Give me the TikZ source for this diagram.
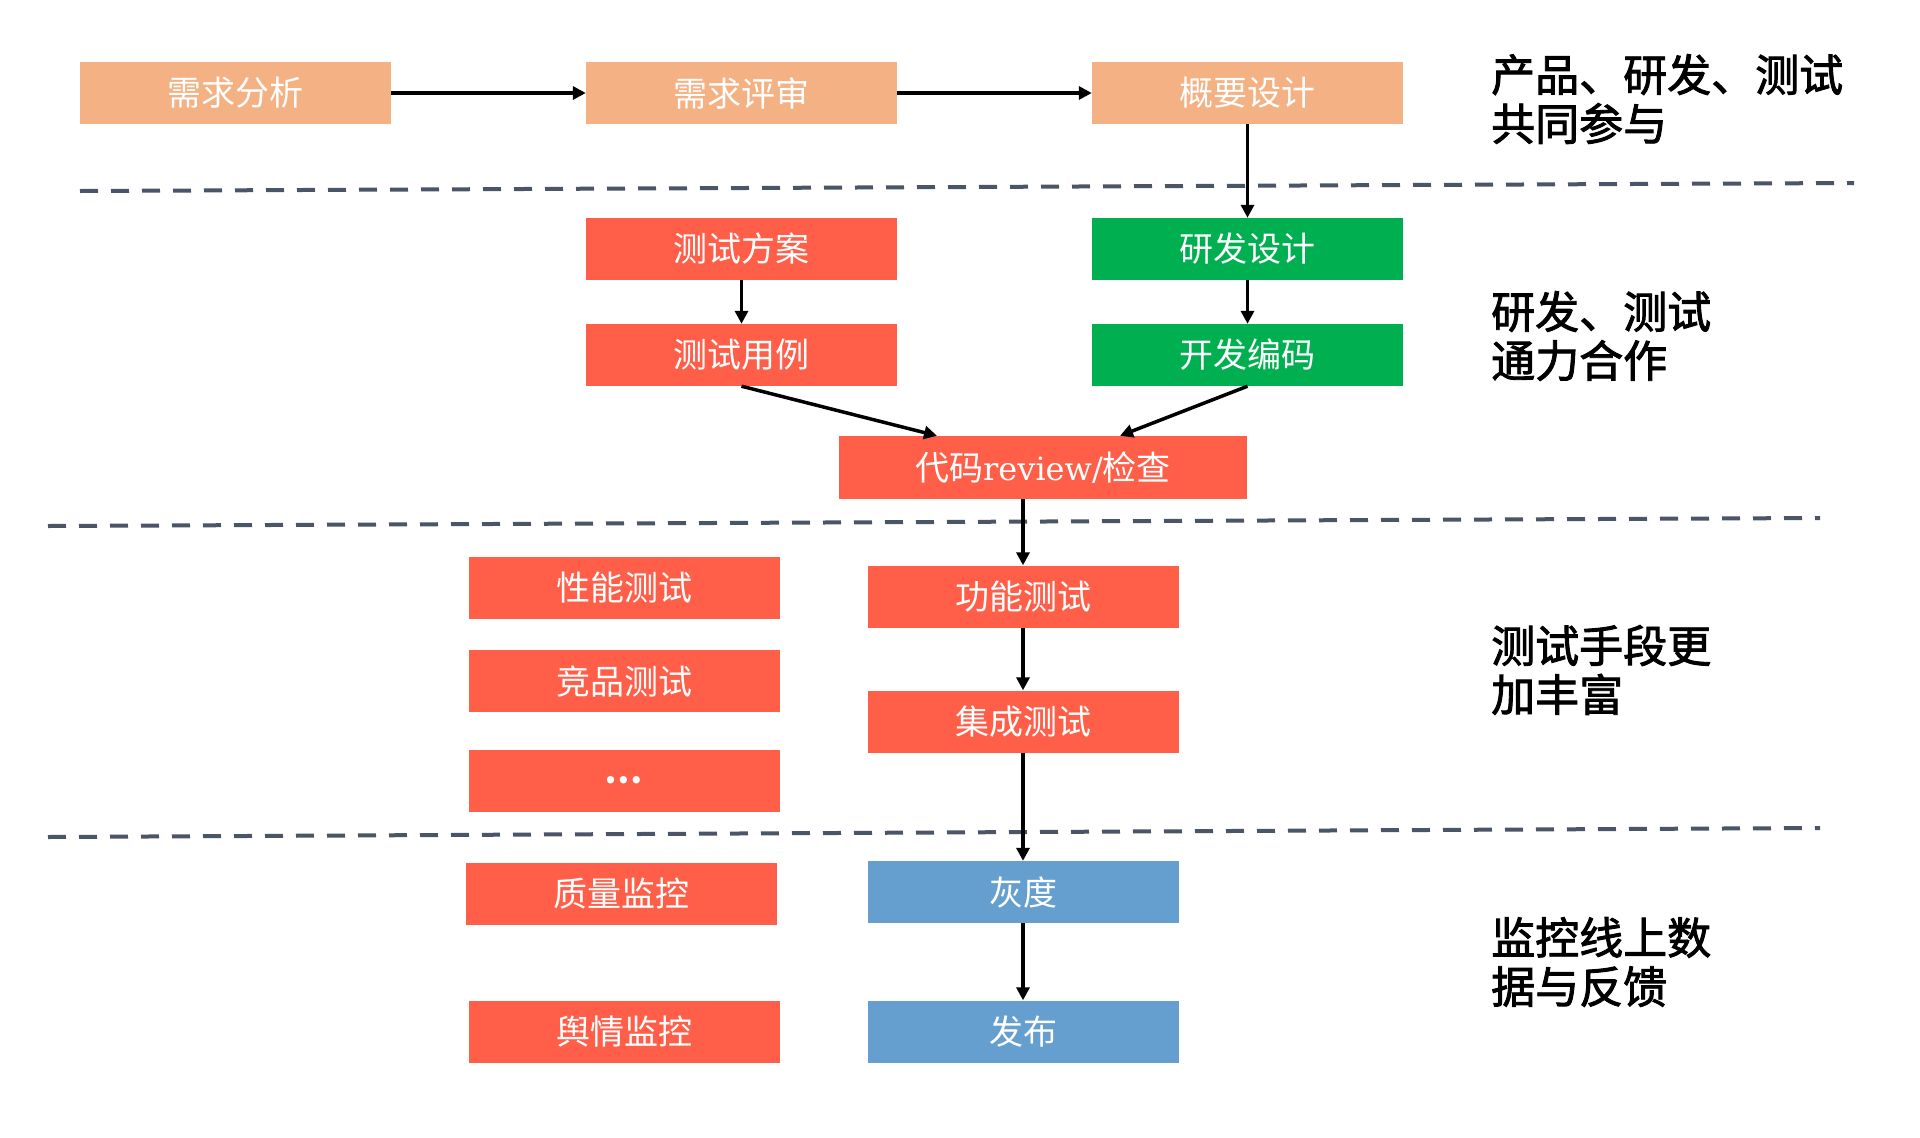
\documentclass[tikz,border=0pt]{standalone}
\usepackage{fontspec}
\setmainfont{Noto Sans CJK SC}
\newfontfamily\sidefont{Noto Sans CJK SC}[FakeBold=2]
\newfontfamily\latserif{DejaVu Serif}
\usetikzlibrary{arrows.meta}
\definecolor{peach}{HTML}{F4B183}
\definecolor{redbox}{HTML}{FF5E48}
\definecolor{greenbox}{HTML}{00B050}
\definecolor{bluebox}{HTML}{659FCF}
\definecolor{dashc}{HTML}{4B5568}
\tikzset{
  box/.style={minimum width=311pt, minimum height=62pt, inner sep=0pt, text=white, font=\fontsize{34}{40}\selectfont},
  pbox/.style={box, fill=peach},
  rbox/.style={box, fill=redbox},
  gbox/.style={box, fill=greenbox},
  bbox/.style={box, fill=bluebox},
  arr/.style={-{Triangle[length=13pt,width=13pt]}, line width=3.5pt, black},
  sidetext/.style={anchor=west, align=left, inner sep=0pt, font=\sidefont\fontsize{44}{49}\selectfont},
  dashline/.style={dashc, line width=4pt, dash pattern=on 18pt off 13pt}
}
\begin{document}
\begin{tikzpicture}[x=1pt, y=-1pt]
\fill[white] (0,0) rectangle (1920,1138);
\useasboundingbox (0,0) rectangle (1920,1138);

% dashed separators
\draw[dashline] (80,191) -- (1854,183);
\draw[dashline] (48,526) -- (1820,518);
\draw[dashline] (48,837) -- (1820,828);

% top row
\node[pbox] (xqfx) at (235.5,93) {需求分析};
\node[pbox] (xqps) at (741.5,93) {需求评审};
\node[pbox] (gysj) at (1247.5,93) {概要设计};

% second block
\node[rbox] (csfa) at (741.5,248.5) {测试方案};
\node[rbox] (csyl) at (741.5,355) {测试用例};
\node[gbox] (yfsj) at (1247.5,249) {研发设计};
\node[gbox] (kfbm) at (1247.5,355) {开发编码};
\node[rbox, minimum width=408pt, minimum height=63pt] (code) at (1043,467.5) {代码{\latserif\fontsize{32}{36}\selectfont review/}检查};

% third block
\node[rbox] (xncs) at (624,587.5) {性能测试};
\node[rbox] (jpcs) at (624,681) {竞品测试};
\node[rbox] (dots) at (624,780.5) {\bfseries …};
\node[rbox] (gncs) at (1023,596.5) {功能测试};
\node[rbox] (jccs) at (1023,721.5) {集成测试};

% fourth block
\node[rbox] (zljk) at (621,893.5) {质量监控};
\node[rbox] (yqjk) at (624,1031.5) {舆情监控};
\node[bbox] (hd) at (1023,892) {灰度};
\node[bbox] (fb) at (1023,1031.5) {发布};

% side texts
\node[sidetext] (t1) at (1491,99) {产品、研发、测试\\共同参与};
\node[sidetext] (t2) at (1491,336) {研发、测试\\通力合作};
\node[sidetext] (t3) at (1491,670) {测试手段更\\加丰富};
\node[sidetext] (t4) at (1491,962) {监控线上数\\据与反馈};

% connectors
\coordinate (c1) at ([xshift=-106pt]code.north);
\coordinate (c2) at ([xshift=77pt]code.north);
\draw[arr] (xqfx.east) -- (xqps.west);
\draw[arr] (xqps.east) -- (gysj.west);
\draw[arr] (gysj.south) -- (yfsj.north);
\draw[arr] (yfsj.south) -- (kfbm.north);
\draw[arr] (csfa.south) -- (csyl.north);
\draw[arr] (csyl.south) -- (c1);
\draw[arr] (kfbm.south) -- (c2);
\draw[arr] (code.south -| gncs.north) -- (gncs.north);
\draw[arr] (gncs.south) -- (jccs.north);
\draw[arr] (jccs.south) -- (hd.north);
\draw[arr] (hd.south) -- (fb.north);
\end{tikzpicture}
\end{document}
